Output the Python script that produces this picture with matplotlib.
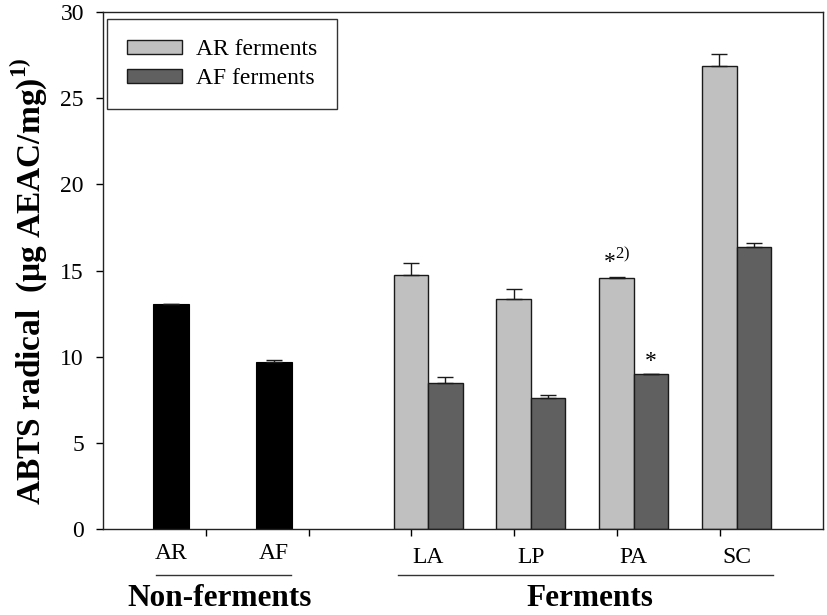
import numpy as np
import matplotlib
matplotlib.use("Agg")
import matplotlib.pyplot as plt
import matplotlib.transforms as mtransforms

plt.rcParams['font.family'] = ['Liberation Serif', 'DejaVu Serif']
plt.rcParams['mathtext.fontset'] = 'custom'
plt.rcParams['mathtext.rm'] = 'Liberation Serif'
plt.rcParams['mathtext.bf'] = 'Liberation Serif:bold'

# ---- data ----
nonferm_labels = ["AR", "AF"]
nonferm_values = [13.04, 9.68]
nonferm_err = [0.04, 0.15]

ferm_labels = ["LA", "LP", "PA", "SC"]
ar_ferm_values = [14.76, 13.35, 14.58, 26.85]
ar_ferm_err = [0.67, 0.60, 0.02, 0.68]
af_ferm_values = [8.48, 7.61, 9.00, 16.38]
af_ferm_err = [0.37, 0.16, 0.02, 0.23]

yticks = [0, 5, 10, 15, 20, 25, 30]
ylabel = "ABTS radical  (μg AEAC/mg)$^{\\mathbf{1)}}$"
legend_labels = ["AR ferments", "AF ferments"]
group_titles = ["Non-ferments", "Ferments"]
sig_marks_ar = ["", "", "*$^{2)}$", ""]
sig_marks_af = ["", "", "*", ""]

# ---- layout ----
fig = plt.figure(figsize=(8.27, 6.15), dpi=100)
ax = fig.add_axes([0.1242, 0.1393, 0.9952 - 0.1242, 0.981 - 0.1393])

x_non = np.arange(len(nonferm_labels), dtype=float)          # 0, 1
x_fer = np.arange(len(ferm_labels), dtype=float) + 2.5        # 2.5 .. 5.5
w = 0.335
wb = 0.345

light = "#c0c0c0"
dark = "#606060"
edge = "#1a1a1a"

ax.bar(x_non, nonferm_values, width=wb, color="black", edgecolor="black",
       linewidth=0.8, zorder=2)
ax.errorbar(x_non, nonferm_values, yerr=[np.zeros(2), nonferm_err], fmt="none",
            ecolor=edge, elinewidth=1.0, capsize=5.8, capthick=1.0, zorder=3)

b1 = ax.bar(x_fer - w / 2, ar_ferm_values, width=w, color=light, edgecolor=edge,
            linewidth=1.0, zorder=2, label=legend_labels[0])
b2 = ax.bar(x_fer + w / 2, af_ferm_values, width=w, color=dark, edgecolor=edge,
            linewidth=1.0, zorder=2, label=legend_labels[1])
ax.errorbar(x_fer - w / 2, ar_ferm_values, yerr=[np.zeros(4), ar_ferm_err], fmt="none",
            ecolor=edge, elinewidth=1.0, capsize=5.8, capthick=1.0, zorder=3)
ax.errorbar(x_fer + w / 2, af_ferm_values, yerr=[np.zeros(4), af_ferm_err], fmt="none",
            ecolor=edge, elinewidth=1.0, capsize=5.8, capthick=1.0, zorder=3)

# significance marks
for xi, v, e, s in zip(x_fer - w / 2, ar_ferm_values, ar_ferm_err, sig_marks_ar):
    if s:
        ax.annotate(s, (xi, v + e), xytext=(0, 4), textcoords="offset points",
                    ha="center", va="bottom", fontsize=17)
for xi, v, e, s in zip(x_fer + w / 2, af_ferm_values, af_ferm_err, sig_marks_af):
    if s:
        ax.annotate(s, (xi, v + e), xytext=(0, 1), textcoords="offset points",
                    ha="center", va="bottom", fontsize=17)

ax.set_ylim(0, 30)
ax.set_xlim(-0.665, 6.341)
ax.set_yticks(yticks)
ax.tick_params(axis="y", direction="out", length=5, width=1.0, labelsize=17, pad=8.5)

# x tick marks (minor) and category labels as text
ax.set_xticks(np.arange(6) + 0.337, minor=True)
ax.set_xticks([])
ax.tick_params(axis="x", which="minor", direction="out", length=5, width=1.0)

trans = mtransforms.blended_transform_factory(ax.transData, ax.transAxes)
for xi, lab in zip(x_non, nonferm_labels):
    ax.text(xi, -0.0578, lab, transform=trans, ha="center", va="baseline", fontsize=17)
for xi, lab in zip(x_fer, ferm_labels):
    ax.text(xi, -0.0655, lab, transform=trans, ha="center", va="baseline", fontsize=17)

# group underline and titles
groups = [(x_non[0] - 0.15, x_non[-1] + 0.166), (x_fer[0] - 0.29, x_fer[-1] + 0.355)]
title_x = [0.47, 4.07]
for (a, b), tx, title in zip(groups, title_x, group_titles):
    ax.plot([a, b], [-0.088, -0.088], transform=trans, color="#333333", lw=1.0,
            clip_on=False)
    ax.text(tx, -0.149, title, transform=trans, ha="center", va="baseline",
            fontsize=22.5, fontweight="bold")

ax.set_ylabel(ylabel, fontsize=24, fontweight="bold")
ax.yaxis.set_label_coords(-0.0746, 0.4797)

for sp in ax.spines.values():
    sp.set_linewidth(1.0)
    sp.set_color("#222222")

leg = ax.legend(handles=[b1, b2], loc="upper left", bbox_to_anchor=(0.0056, 0.9859),
                borderaxespad=0, fontsize=17, frameon=True, fancybox=False,
                edgecolor="black", handlelength=2.33, handleheight=0.55,
                handletextpad=0.6, labelspacing=0.35, borderpad=0.85)
leg.get_frame().set_linewidth(1.0)

fig.savefig("out.png", dpi=100)
